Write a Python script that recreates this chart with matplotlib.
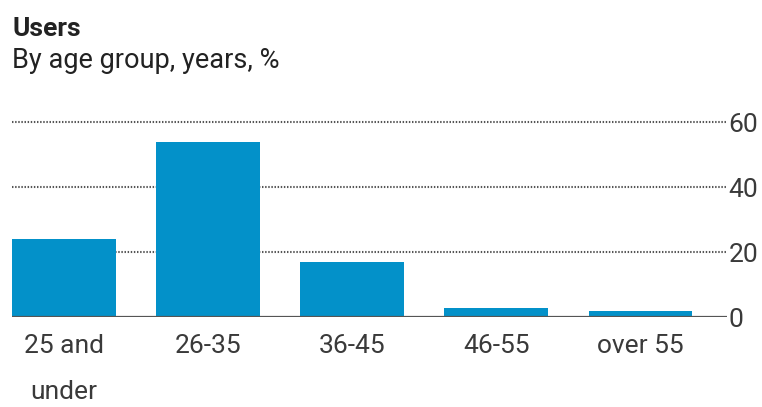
import numpy as np
import matplotlib
matplotlib.use("Agg")
import matplotlib.pyplot as plt

plt.rcParams['font.family'] = ['Roboto', 'DejaVu Sans']

# data
groups = ["25 and\nunder", "26-35", "36-45", "46-55", "over 55"]
share = [24, 54, 17, 3, 2]
yticks = [0, 20, 40, 60]

bar_col = "#0391c9"
txt_col = "#3a3a3a"

fig = plt.figure(figsize=(7.62, 4.07), dpi=100)
ax = fig.add_axes([12/762, 89.7/407, (727-12)/762, 0.7155-89.7/407])

x = np.arange(len(groups))
ax.bar(x, share, width=0.72, color=bar_col, zorder=2)

for v in yticks[1:]:
    ax.axhline(v, color="#555555", lw=1.5, dashes=(0.7, 0.8), zorder=1)
ax.axhline(0, color="#555555", lw=1.6, zorder=3)

ax.set_xlim(-0.36, 4.6)
ax.set_ylim(0, 62)
ax.set_xticks(x)
ax.set_xticklabels(groups, fontsize=19, color=txt_col, linespacing=2.15)
ax.set_yticks(yticks)
ax.set_yticklabels([str(v) for v in yticks], fontsize=19, color=txt_col)
ax.tick_params(axis="x", length=0, pad=12)
ax.tick_params(axis="y", length=0, pad=1, left=False, labelleft=False, right=False, labelright=True)
for s in ax.spines.values():
    s.set_visible(False)

fig.text(12/762, 1-36/407, "Users", fontsize=19, fontweight="bold", color="#222222", va="baseline")
fig.text(12/762, 1-68/407, "By age group, years, %", fontsize=19.5, color="#222222", va="baseline")

fig.savefig("out.png", dpi=100)
